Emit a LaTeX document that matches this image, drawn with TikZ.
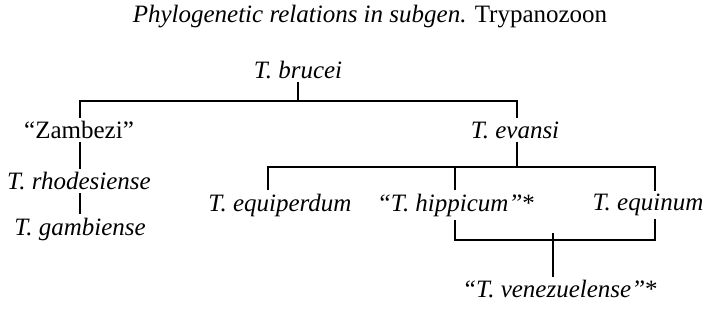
\documentclass[tikz,border=0pt]{standalone}
\usepackage{fontspec}
\setmainfont{Liberation Serif}
\begin{document}
\begin{tikzpicture}[x=1pt,y=-1pt,
  lbl/.style={font=\fontsize{25}{29}\selectfont\itshape, inner xsep=0pt, inner ysep=3pt},
  ln/.style={line width=1.3pt}]
\useasboundingbox (0,0) rectangle (710,320);
\node[font=\fontsize{25}{29}\selectfont] (title) at (370,17) {\textit{Phylogenetic relations in subgen.} Trypanozoon};
\node[lbl] (brucei) at (298,70) {T. brucei};
\node[lbl,font=\fontsize{25}{29}\selectfont\upshape] (zambezi) at (79,130) {``Zambezi''};
\node[lbl] (evansi) at (515,130) {T. evansi};
\node[lbl] (rhod) at (79,181) {T. rhodesiense};
\node[lbl] (gamb) at (80,229) {T. gambiense};
\node[lbl] (equip) at (280,205) {T. equiperdum};
\node[lbl] (hipp) at (456,205) {``T. hippicum''\textup{*}};
\node[lbl] (equin) at (648,205) {T. equinum};
\node[lbl] (vene) at (560,289) {``T. venezuelense''\textup{*}};
\coordinate (j1) at (298,101);
\coordinate (j1l) at (80,101);
\coordinate (j1r) at (517,101);
\coordinate (j2) at (517,167);
\coordinate (j2l) at (268,167);
\coordinate (j2m) at (455,167);
\coordinate (j2r) at (655,167);
\coordinate (j3) at (553,240);
\coordinate (j3l) at (455,240);
\coordinate (j3r) at (655,240);
% brucei
\draw[ln] (brucei) -- (j1);
\draw[ln] (zambezi.north -| j1l) -- (j1l) -- (j1r) -- (evansi.north -| j1r);
% left chain
\draw[ln] (zambezi.south -| j1l) -- (rhod.north -| j1l);
\draw[ln] (rhod.south -| j1l) -- (gamb.north -| j1l);
% evansi
\draw[ln] (evansi.south -| j2) -- (j2);
\draw[ln] (equip.north -| j2l) -- (j2l) -- (j2r) -- (equin.north -| j2r);
\draw[ln] (hipp.north -| j2m) -- (j2m);
% lower
\draw[ln] (hipp.south -| j3l) -- (j3l) -- (j3r) -- (equin.south -| j3r);
\draw[ln] (vene.north -| j3) -- ([yshift=7pt]j3);
\end{tikzpicture}
\end{document}
